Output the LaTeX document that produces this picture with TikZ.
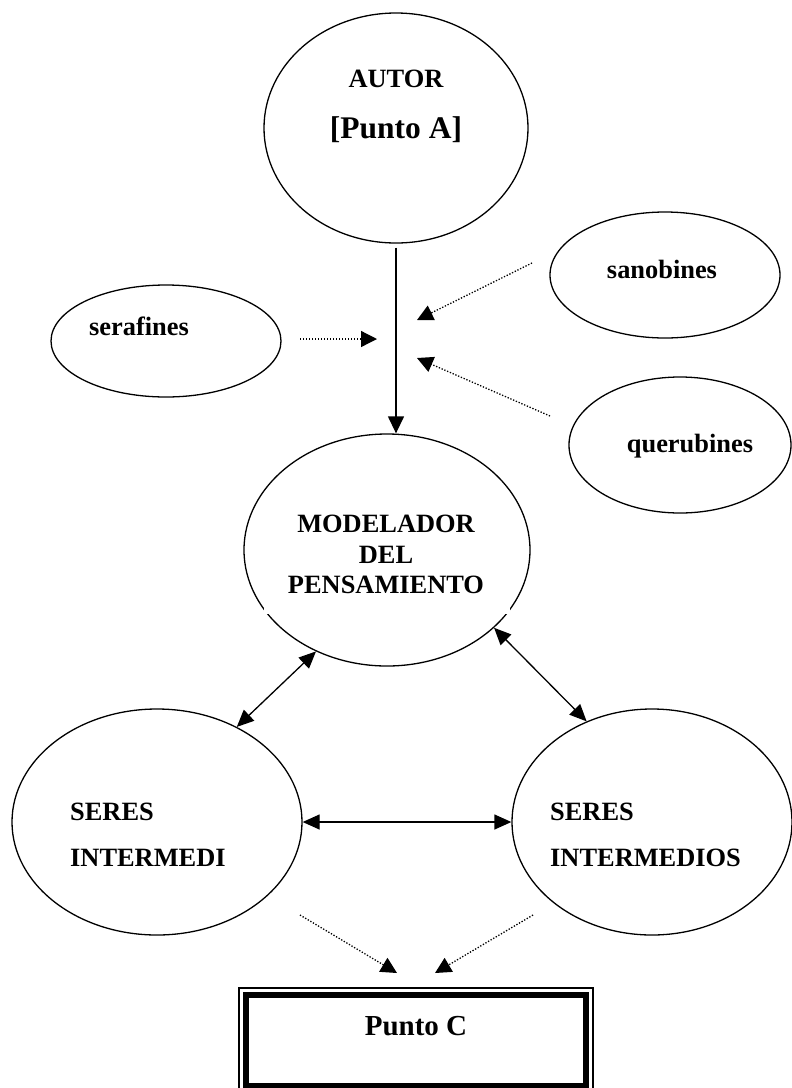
\documentclass[tikz,border=0pt]{standalone}
\usepackage{fontspec}
\setmainfont{Liberation Serif}
\usetikzlibrary{arrows.meta, positioning, shapes.geometric}

\begin{document}
\begin{tikzpicture}[x=1pt, y=-1pt, every node/.style={font=\bfseries\fontsize{26.4}{31}\selectfont}]
  \tikzset{oval/.style={draw, ellipse, line width=1.3pt, inner sep=0pt}}
  \tikzset{word/.style={anchor=base, inner sep=0pt}}
  \tikzset{onearrow/.style={-{Triangle[length=17pt, width=16pt]}, line width=1.3pt}}
  \tikzset{twoarrow/.style={{Triangle[length=17pt, width=15pt]}-{Triangle[length=17pt, width=15pt]}, line width=1.3pt}}
  \tikzset{dotarrow/.style={-{Triangle[length=16pt, width=16pt]}, line width=1.3pt, dash pattern=on 1.3pt off 1.7pt}}
  \useasboundingbox (0,0) rectangle (792,1088);
  \clip (0,0) rectangle (792,1088);
  % ovals
  \node[oval, minimum width=264pt, minimum height=230pt] (autor) at (396,128) {};
  \node[oval, minimum width=230pt, minimum height=112pt] (sera) at (166,341) {};
  \node[oval, minimum width=230pt, minimum height=126pt] (sano) at (665,275) {};
  \node[oval, minimum width=222pt, minimum height=136pt] (queru) at (680,445) {};
  \node[oval, minimum width=286pt, minimum height=232pt] (model) at (387,550) {};
  \node[oval, minimum width=290pt, minimum height=226pt] (seresl) at (157,822) {};
  \node[oval, minimum width=280pt, minimum height=226pt] (seresr) at (652,822) {};
  \fill[white] (264,493) rectangle (510,614);
  % free ends of the dotted arrows
  \coordinate (s1) at (300,339);  \coordinate (e1) at (377,339);
  \coordinate (s2) at (532,263);  \coordinate (e2) at (417,320);
  \coordinate (s3) at (550,416);  \coordinate (e3) at (417,358);
  \coordinate (s4) at (300,915);  \coordinate (e4) at (397,973);
  \coordinate (s5) at (533,915);  \coordinate (e5) at (435,973);
  % texts
  \node[word] (autortxt) at (396,87) {AUTOR};
  \node[word, font=\bfseries\fontsize{31.5}{36}\selectfont] (puntoa) at (396,138) {[Punto A]};
  \node[word, anchor=base west] (seratxt) at (89,335) {serafines};
  \node[word] (sanotxt) at (662,278) {sanobines};
  \node[word] (querutxt) at (690,452) {querubines};
  \node[word] (m1) at (386,532) {MODELADOR};
  \node[word] (m2) at (386,563) {DEL};
  \node[word] (m3) at (386,593) {PENSAMIENTO};
  \node[word, anchor=base west] (l1) at (70,820) {SERES};
  \node[word, anchor=base west] (l2) at (70,866) {INTERMEDI};
  \node[word, anchor=base west] (r1) at (550,820) {SERES};
  \node[word, anchor=base west] (r2) at (550,866) {INTERMEDIOS};
  \node[word, font=\bfseries\fontsize{29}{34}\selectfont] (puntoc) at (416,1035) {Punto C};
  % box of Punto C
  \draw[line width=1.5pt] (239,988) rectangle (593,1100);
  \draw[line width=6pt] (246,994.5) rectangle (586,1086);
  % connectors
  \draw[onearrow, shorten <=4pt] (autor.south) -- (autor.south |- model.north);
  \draw[twoarrow] (model.235) -- (seresl.50);
  \draw[twoarrow] (model.324) -- (seresr.123);
  \draw[twoarrow] (seresl.east) -- (seresr.west);
  \draw[dotarrow] (s1) -- (e1);
  \draw[dotarrow] (s2) -- (e2);
  \draw[dotarrow] (s3) -- (e3);
  \draw[dotarrow] (s4) -- (e4);
  \draw[dotarrow] (s5) -- (e5);
\end{tikzpicture}
\end{document}
